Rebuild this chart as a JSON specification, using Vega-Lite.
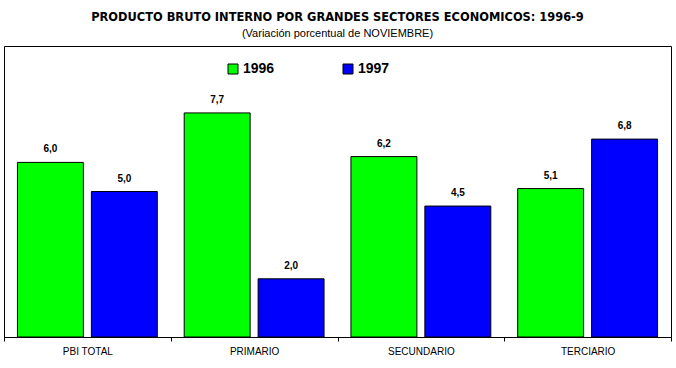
{
  "$schema": "https://vega.github.io/schema/vega-lite/v6.json",
  "width": 667,
  "height": 291,
  "autosize": {"type": "none"},
  "padding": {"left": 4, "top": 46, "right": 5, "bottom": 31},
  "background": "white",
  "config": {
    "view": {"stroke": "black", "strokeWidth": 1},
    "font": "Liberation Sans",
    "locale": {"number": {"decimal": ",", "thousands": ".", "grouping": [3], "currency": ["", ""]}}
  },
  "title": {
    "text": "PRODUCTO BRUTO INTERNO POR GRANDES SECTORES ECONOMICOS: 1996-9",
    "subtitle": "(Variación porcentual de NOVIEMBRE)",
    "font": "DejaVu Sans Condensed",
    "fontSize": 12.7,
    "fontWeight": "bold",
    "color": "black",
    "subtitleFont": "Liberation Sans",
    "subtitleFontSize": 11,
    "subtitleColor": "black",
    "anchor": "middle",
    "offset": 7,
    "subtitlePadding": 4
  },
  "data": {
    "values": [
      {"sector": "PBI TOTAL", "year": "1996", "value": 6.0},
      {"sector": "PBI TOTAL", "year": "1997", "value": 5.0},
      {"sector": "PRIMARIO", "year": "1996", "value": 7.7},
      {"sector": "PRIMARIO", "year": "1997", "value": 2.0},
      {"sector": "SECUNDARIO", "year": "1996", "value": 6.2},
      {"sector": "SECUNDARIO", "year": "1997", "value": 4.5},
      {"sector": "TERCIARIO", "year": "1996", "value": 5.1},
      {"sector": "TERCIARIO", "year": "1997", "value": 6.8}
    ]
  },
  "encoding": {
    "x": {
      "field": "sector",
      "type": "nominal",
      "sort": ["PBI TOTAL", "PRIMARIO", "SECUNDARIO", "TERCIARIO"],
      "scale": {"paddingInner": 0, "paddingOuter": 0},
      "axis": {
        "title": null,
        "labelAngle": 0,
        "tickBand": "extent",
        "tickSize": 4,
        "domainColor": "black",
        "tickColor": "black",
        "labelFontSize": 10,
        "labelColor": "black",
        "labelPadding": 5
      }
    },
    "xOffset": {
      "field": "year",
      "type": "nominal",
      "scale": {"paddingInner": 0.108, "paddingOuter": 0.182}
    },
    "y": {
      "field": "value",
      "type": "quantitative",
      "scale": {"domain": [0, 10]},
      "axis": null
    }
  },
  "layer": [
    {
      "mark": {"type": "bar", "stroke": "black", "strokeWidth": 1},
      "encoding": {
        "color": {
          "field": "year",
          "type": "nominal",
          "scale": {"range": ["#00ff00", "#0000ff"]},
          "legend": {
            "title": null,
            "orient": "none",
            "legendX": 222,
            "legendY": 16,
            "direction": "horizontal",
            "symbolType": "square",
            "symbolSize": 100,
            "symbolStrokeColor": "black",
            "symbolStrokeWidth": 1,
            "symbolOpacity": 1,
            "labelFontSize": 14,
            "labelFontWeight": "bold",
            "labelColor": "black",
            "labelOffset": 3,
            "columnPadding": 66,
            "padding": 0
          }
        }
      }
    },
    {
      "mark": {"type": "text", "dy": -13, "fontSize": 10, "fontWeight": "bold", "color": "black"},
      "encoding": {
        "text": {"field": "value", "type": "quantitative", "format": ".1f"}
      }
    }
  ]
}
